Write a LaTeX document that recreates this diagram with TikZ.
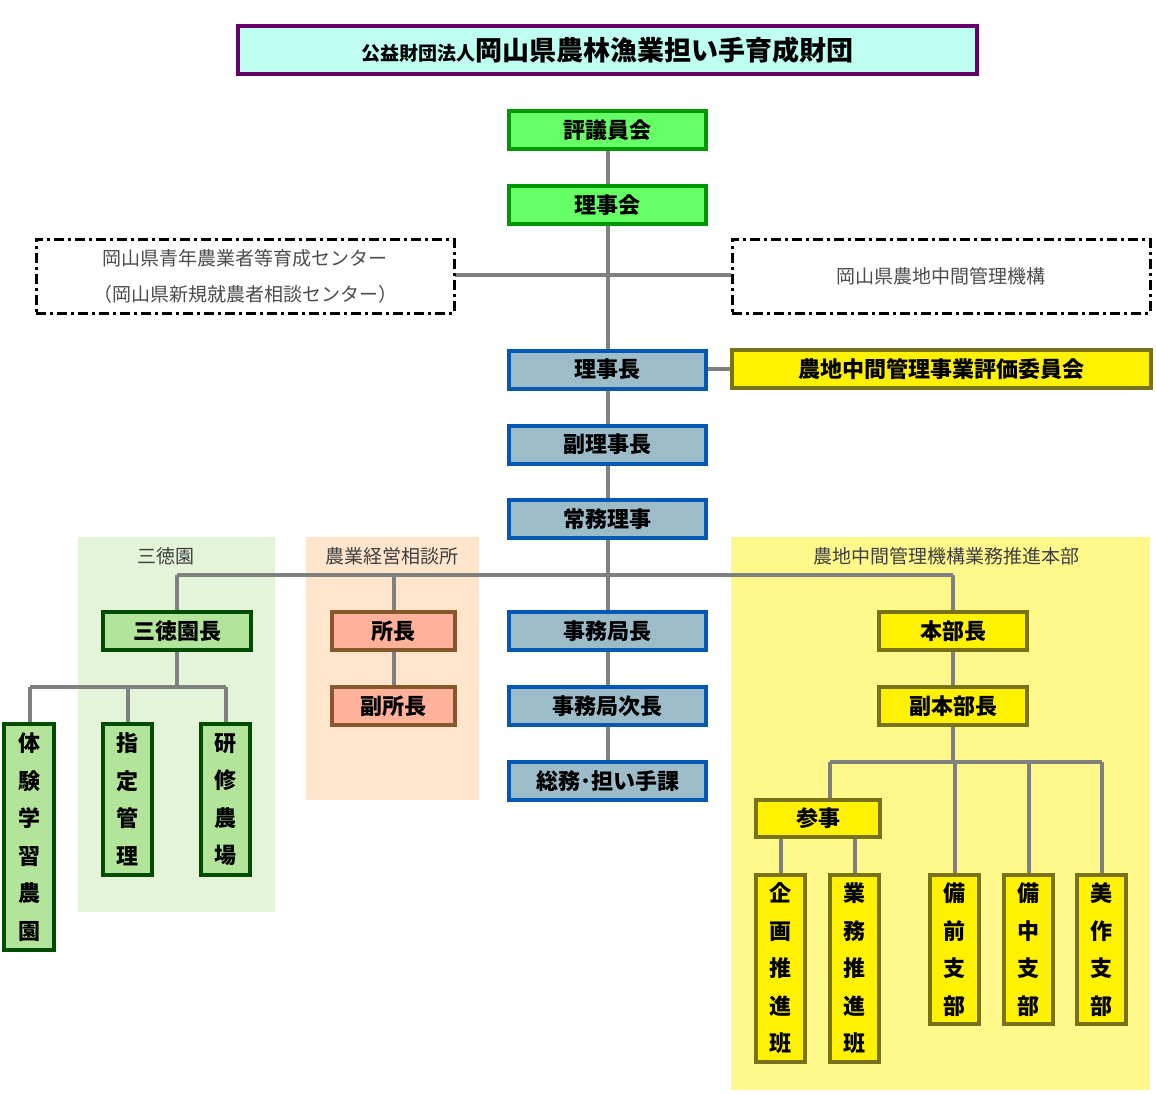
\documentclass[tikz,border=0pt]{standalone}
\usepackage{fontspec}
\setmainfont{Noto Sans CJK JP}
\begin{document}
\begin{tikzpicture}[x=1pt,y=-1pt,
 base/.style={draw,line width=4pt,font=\fontsize{22}{26}\selectfont\bfseries,inner sep=0pt},
 gbox/.style={base,fill=green!60,draw=green!60!black,minimum width=197pt,minimum height=38pt},
 bbox/.style={base,fill=blue!30!cyan!30!gray!60,draw=blue!50!cyan!70!black,minimum width=197pt,minimum height=38pt},
 ybox/.style={base,fill=yellow,draw=olive!80!black},
 sbox/.style={base,fill=green!50!olive!40,draw=green!30!black},
 obox/.style={base,fill=orange!50!red!40,draw=brown!70!black,minimum width=123pt,minimum height=38pt},
 vtext/.style={align=center,font=\fontsize{22}{37.5}\selectfont\bfseries},
 dbox/.style={draw,line width=3pt,dash pattern=on 10pt off 4pt on 3pt off 4pt,minimum width=418pt,minimum height=74pt,font=\fontsize{19}{36}\selectfont,align=center,text=black!70},
 ln/.style={draw=gray,line width=4pt},
 lab/.style={font=\fontsize{19}{22}\selectfont,text=black!75}]
\useasboundingbox (0,0) rectangle (1156,1093);
% regions
\fill[green!40!olive!15] (78,537) rectangle (275,912);
\fill[orange!20] (306,537) rectangle (479,800);
\fill[yellow!45] (731,537) rectangle (1150,1090);
\node[lab] (l1) at (166,556) {三徳園};
\node[lab] (l2) at (392,556) {農業経営相談所};
\node[lab] (l3) at (946,556) {農地中間管理機構業務推進本部};
% title
\node[draw=violet!80!black,line width=4pt,fill=green!20!cyan!25!white,minimum width=739pt,minimum height=48pt] (t) at (607.5,50) {\fontsize{19}{22}\selectfont\bfseries 公益財団法人\fontsize{27}{30}\selectfont 岡山県農林漁業担い手育成財団};
% trunk lines
\coordinate (top) at (607.5,150);
\coordinate (bot) at (607.5,761);
\draw[ln] (top) -- (bot);
\draw[ln] (177,575) -- (953,575);
\draw[ln] (455,275) -- (731,275);
\draw[ln] (707,369) -- (731,369);
\draw[ln] (177,575) -- (177,687);
\draw[ln] (30,687) -- (226,687);
\draw[ln] (30,687) -- (30,723);
\draw[ln] (128,687) -- (128,723);
\draw[ln] (226,687) -- (226,723);
\draw[ln] (393.5,575) -- (393.5,687);
\draw[ln] (953,575) -- (953,762);
\draw[ln] (830,762) -- (1102,762);
\draw[ln] (830,762) -- (830,799);
\draw[ln] (954.5,762) -- (954.5,874);
\draw[ln] (1028.5,762) -- (1028.5,874);
\draw[ln] (1101.5,762) -- (1101.5,874);
\draw[ln] (781,838) -- (781,874);
\draw[ln] (855,838) -- (855,874);
% boxes
\node[gbox] (a) at (607.5,130) {評議員会};
\node[gbox] (b) at (607.5,205) {理事会};
\node[dbox] (d1) at (245,276) {岡山県青年農業者等育成センター\\（岡山県新規就農者相談センター）};
\node[dbox] (d2) at (941,276) {岡山県農地中間管理機構};
\node[bbox] (c1) at (607.5,369.5) {理事長};
\node[ybox,minimum width=419pt,minimum height=38pt] (y) at (941.5,369) {農地中間管理事業評価委員会};
\node[bbox] (c2) at (607.5,444.5) {副理事長};
\node[bbox] (c3) at (607.5,519) {常務理事};
\node[bbox] (c4) at (607.5,631) {事務局長};
\node[bbox] (c5) at (607.5,706) {事務局次長};
\node[bbox] (c6) at (607.5,781) {総務･担い手課};
\node[sbox,minimum width=148pt,minimum height=38pt] (s) at (177,631) {三徳園長};
\node[sbox,vtext,minimum width=50pt,minimum height=226pt] (s1) at (29,837) {体\\験\\学\\習\\農\\園};
\node[sbox,vtext,minimum width=49pt,minimum height=151pt] (s2) at (127.5,799.5) {指\\定\\管\\理};
\node[sbox,vtext,minimum width=49pt,minimum height=151pt] (s3) at (225.5,799.5) {研\\修\\農\\場};
\node[obox] (o1) at (393.5,631) {所長};
\node[obox] (o2) at (393.5,706) {副所長};
\node[ybox,minimum width=148pt,minimum height=38pt] (h1) at (953,631) {本部長};
\node[ybox,minimum width=148pt,minimum height=38pt] (h2) at (953,706) {副本部長};
\node[ybox,minimum width=124pt,minimum height=37pt] (h3) at (818,818.5) {参事};
\node[ybox,vtext,minimum width=49pt,minimum height=187pt] (k1) at (780.5,968.5) {企\\画\\推\\進\\班};
\node[ybox,vtext,minimum width=49pt,minimum height=187pt] (k2) at (854.5,968.5) {業\\務\\推\\進\\班};
\node[ybox,vtext,minimum width=49pt,minimum height=149pt] (k3) at (954.5,949.5) {備\\前\\支\\部};
\node[ybox,vtext,minimum width=49pt,minimum height=149pt] (k4) at (1028.5,949.5) {備\\中\\支\\部};
\node[ybox,vtext,minimum width=49pt,minimum height=149pt] (k5) at (1101.5,949.5) {美\\作\\支\\部};
\end{tikzpicture}
\end{document}
